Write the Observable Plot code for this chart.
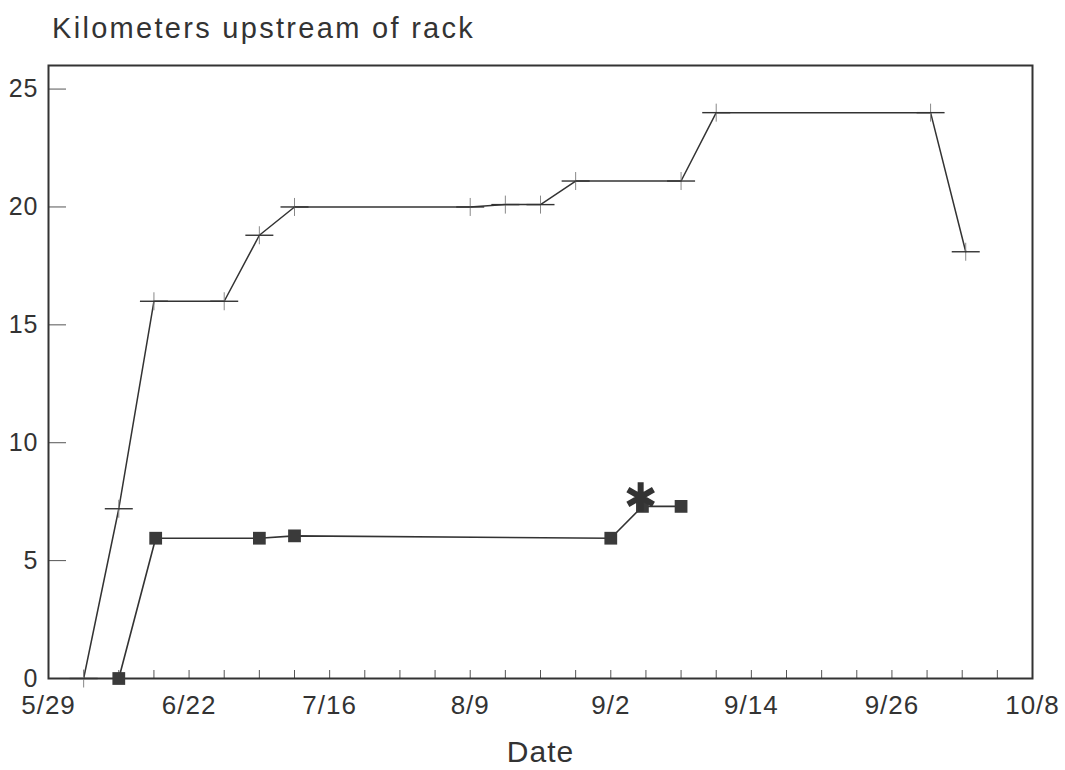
<!DOCTYPE html>
<html>
<head>
<meta charset="utf-8">
<script src="https://cdn.jsdelivr.net/npm/d3@7"></script>
<script src="https://cdn.jsdelivr.net/npm/@observablehq/plot@0.6"></script>
<style>
  html, body { margin: 0; padding: 0; background: #fff; }
  #title { box-sizing: border-box; height: 48px; padding: 12px 0 0 52px; font: 29px "Liberation Sans", Arial, sans-serif; letter-spacing: 2.3px; color: #333; line-height: normal; white-space: nowrap; }
  #chart svg { display: block; }
</style>
</head>
<body>
<div id="title">Kilometers upstream of rack</div>
<div id="chart"></div>
<script>
// Tick labels on the (non-linear) date axis, placed at equally spaced axis positions
const xTickPositions = [0, 4, 8, 12, 16, 20, 24, 28];
const xTickLabels = ["5/29", "6/22", "7/16", "8/9", "9/2", "9/14", "9/26", "10/8"];
const xMinorTicks = d3.range(0, 29);
const yTicks = [0, 5, 10, 15, 20, 25];

// Fish 1 (plus markers)
const upperX  = [1, 2, 3, 5, 6, 7, 12, 13, 14, 15, 18, 19, 25.1, 26.1];
const upperKm = [0, 7.2, 16, 16, 18.8, 20, 20, 20.1, 20.1, 21.1, 21.1, 24, 24, 18.1];

// Fish 2 (square markers)
const lowerX  = [2, 3.05, 6, 7, 16, 16.9, 18];
const lowerKm = [0, 5.95, 5.95, 6.05, 5.95, 7.3, 7.3];

// Asterisk marker
const starX  = [16.85];
const starKm = [7.7];

const upper = upperX.map((x, i) => ({x, km: upperKm[i]}));
const lower = lowerX.map((x, i) => ({x, km: lowerKm[i]}));
const star = starX.map((x, i) => ({x, km: starKm[i]}));

const hBar = {draw(ctx, size) { const r = Math.sqrt(size / Math.PI); ctx.moveTo(-1.4 * r, 0); ctx.lineTo(1.4 * r, 0); }};
const vBar = {draw(ctx, size) { const r = Math.sqrt(size / Math.PI); ctx.moveTo(0, -0.9 * r); ctx.lineTo(0, 0.9 * r); }};

const ink = "#333";

const chart = Plot.plot({
  width: 1065,
  height: 722,
  marginLeft: 48,
  marginRight: 33,
  marginTop: 17,
  marginBottom: 92,
  style: {fontFamily: "'Liberation Sans', Arial, sans-serif", color: ink, background: "#fff", letterSpacing: "1px"},
  x: {domain: [0, 28]},
  y: {domain: [0, 26]},
  marks: [
    Plot.axisX({ticks: xMinorTicks, tickSize: -8, tickFormat: () => "", label: null, stroke: "#555"}),
    Plot.axisX({ticks: xTickPositions, tickSize: 0, tickPadding: 17, fontSize: 26,
      tickFormat: d => xTickLabels[xTickPositions.indexOf(d)], label: null}),
    Plot.axisX({ticks: [], label: "Date", labelAnchor: "center", labelArrow: "none", labelOffset: 83, fontSize: 30}),
    Plot.axisY({ticks: yTicks, tickSize: -18, tickPadding: 28, fontSize: 25, label: null, stroke: "#555"}),
    Plot.frame({stroke: ink, strokeWidth: 2}),
    Plot.line(upper, {x: "x", y: "km", stroke: ink, strokeWidth: 1.5}),
    Plot.dot(upper, {x: "x", y: "km", symbol: vBar, r: 10, stroke: "#888", strokeWidth: 1, fill: "none"}),
    Plot.dot(upper, {x: "x", y: "km", symbol: hBar, r: 10, stroke: ink, strokeWidth: 1.4, fill: "none"}),
    Plot.line(lower, {x: "x", y: "km", stroke: ink, strokeWidth: 1.6}),
    Plot.dot(lower, {x: "x", y: "km", symbol: "square", r: 7.2, fill: "#3a3a3a", stroke: "none"}),
    Plot.dot(star, {x: "x", y: "km", symbol: "asterisk", r: 14, stroke: "#333", strokeWidth: 6, fill: "none"})
  ]
});
document.getElementById("chart").append(chart);
</script>
</body>
</html>
